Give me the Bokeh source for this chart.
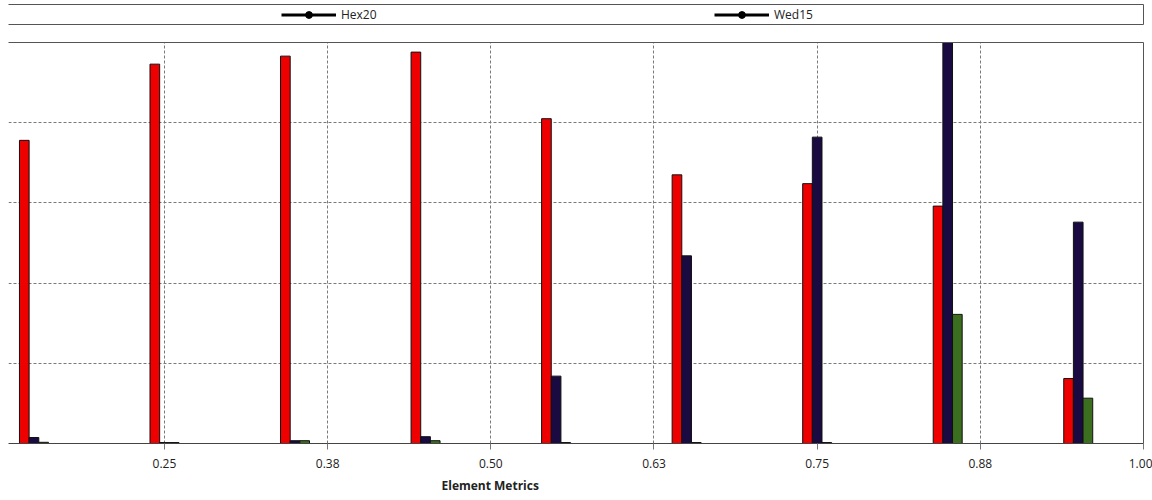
from bokeh.plotting import figure
from bokeh.models import (ColumnDataSource, FixedTicker, LinearAxis, Legend, LegendItem,
                          Title, Range1d, Grid, PrintfTickFormatter)
from bokeh.layouts import column
from bokeh.transform import dodge
from bokeh.embed import file_html
from bokeh.resources import INLINE

# ---- data ----
bins = [0.15, 0.25, 0.35, 0.45, 0.55, 0.65, 0.75, 0.85, 0.95]
tet10 = [3.78, 4.73, 4.83, 4.88, 4.05, 3.35, 3.24, 2.96, 0.81]
hex20 = [0.075, 0.012, 0.035, 0.085, 0.84, 2.34, 3.82, 5.0, 2.76]
wed15 = [0.015, 0.012, 0.035, 0.035, 0.012, 0.012, 0.012, 1.61, 0.565]
tick_values = [0.25, 0.375, 0.5, 0.625, 0.75, 0.875, 1.0]
tick_labels = ["0.25", "0.38", "0.50", "0.63", "0.75", "0.88", "1.00"]
ygrid_values = [1, 2, 3, 4]
legend_names = ["Hex20", "Wed15"]
x_label = "Element Metrics"

W = 1152
FONT = "Open Sans"
bw = 0.0074
NAN = float("nan")

# ---- legend strip ----
lg = figure(width=W, height=25, x_range=Range1d(0, 1), y_range=Range1d(0, 1),
            output_backend="svg", toolbar_location=None,
            x_axis_location=None, y_axis_location=None,
            min_border_left=8, min_border_right=9, min_border_top=4, min_border_bottom=1,
            outline_line_color=None)
lg.xgrid.visible = False
lg.ygrid.visible = False


def frame_axis(**kw):
    return LinearAxis(ticker=FixedTicker(ticks=[]), major_tick_out=0, major_tick_in=0,
                      minor_tick_out=0, minor_tick_in=0, major_label_standoff=0,
                      axis_label_standoff=0, major_label_text_font_size="0px",
                      major_tick_line_color=None, minor_tick_line_color=None,
                      axis_line_color="#555555", axis_line_width=1, **kw)


lg.add_layout(frame_axis(), "above")
lg.add_layout(frame_axis(), "below")
lg.add_layout(frame_axis(), "right")

positions = [273, 706]
for name, xpos in zip(legend_names, positions):
    lsrc = ColumnDataSource(dict(x=[NAN, NAN], y=[NAN, NAN]))
    lr = lg.line(x="x", y="y", source=lsrc, line_color="black", line_width=3)
    sr = lg.scatter(x="x", y="y", source=lsrc, marker="circle", size=7,
                    fill_color="black", line_color="black")
    leg = Legend(items=[LegendItem(label=name, renderers=[lr, sr])],
                 location=(xpos, 1.5), orientation="horizontal",
                 padding=0, margin=0, border_line_color=None, background_fill_alpha=0,
                 glyph_width=55, glyph_height=17, label_standoff=5,
                 label_text_font=FONT, label_text_font_size="12px",
                 label_text_color="#222222")
    lg.add_layout(leg, "center")

# ---- main chart ----
src = ColumnDataSource(dict(bins=bins, tet10=tet10, hex20=hex20, wed15=wed15))

p = figure(width=W, height=475, x_range=Range1d(0.1305, 1.0), y_range=Range1d(0, 5.0),
           output_backend="svg", toolbar_location=None,
           x_axis_location=None, y_axis_location=None,
           min_border_left=8, min_border_right=9, min_border_top=17, min_border_bottom=57,
           outline_line_color=None)
p.xgrid.visible = False
p.ygrid.visible = False

p.add_layout(Grid(dimension=0, ticker=FixedTicker(ticks=tick_values),
                  grid_line_color="#7a7a7a", grid_line_dash="3 2", grid_line_width=1))
p.add_layout(Grid(dimension=1, ticker=FixedTicker(ticks=ygrid_values),
                  grid_line_color="#7a7a7a", grid_line_dash="3 2", grid_line_width=1))

p.vbar(x=dodge("bins", -bw, range=p.x_range), top="tet10", width=bw, source=src,
       fill_color="#ee0000", line_color="#111111", line_width=1)
p.vbar(x=dodge("bins", 0, range=p.x_range), top="hex20", width=bw, source=src,
       fill_color="#1a0a42", line_color="#111111", line_width=1)
p.vbar(x=dodge("bins", bw, range=p.x_range), top="wed15", width=bw, source=src,
       fill_color="#3b6e1e", line_color="#111111", line_width=1)

xaxis = LinearAxis(ticker=FixedTicker(ticks=tick_values),
                   formatter=PrintfTickFormatter(format="%.2f"),
                   major_label_overrides=dict(zip(tick_values, tick_labels)),
                   major_tick_out=6, major_tick_in=0, minor_tick_line_color=None,
                   major_tick_line_color="#777777", axis_line_color="#444444",
                   major_label_text_font=FONT, major_label_text_font_size="12px",
                   major_label_text_color="#222222", major_label_standoff=9)
p.add_layout(xaxis, "below")
p.add_layout(frame_axis(), "above")
p.add_layout(frame_axis(), "right")

p.add_layout(Title(text=x_label, align="left", offset=433, text_font=FONT,
                   text_font_size="12px", text_font_style="bold", text_color="#222222",
                   standoff=8), "below")

layout = column(lg, p)
open("out.html", "w").write(file_html(layout, INLINE))
